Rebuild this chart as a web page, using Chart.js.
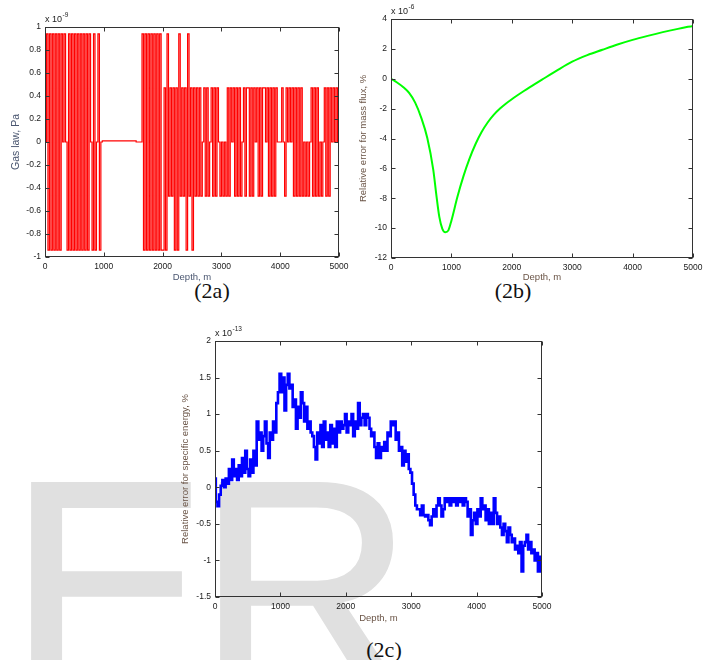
<!DOCTYPE html>
<html>
<head>
<meta charset="utf-8">
<script src="https://cdn.jsdelivr.net/npm/chart.js@4.4.1/dist/chart.umd.min.js"></script>
<style>
  body { margin: 0; background: #fff; width: 715px; height: 660px; overflow: hidden; position: relative; }
  canvas { position: absolute; left: 0; top: 0; }
  .mark { position: absolute; font-family: "Liberation Sans", Arial, sans-serif; font-size: 300px; line-height: 1;
          color: #e0e0e0; -webkit-text-stroke: 3px #e0e0e0; }
  .cap { position: absolute; font-family: "Liberation Serif", serif; font-size: 22px; line-height: 1; color: #111; transform: translateX(-50%); }
</style>
</head>
<body>
<div class="mark" style="left:8px;top:436px">E</div>
<div class="mark" style="left:197px;top:436px">R</div>
<div class="cap" style="left:212px;top:280px">(2a)</div>
<div class="cap" style="left:513px;top:280px">(2b)</div>
<div class="cap" style="left:384px;top:639px">(2c)</div>
<canvas id="chartA" width="715" height="660"></canvas>
<canvas id="chartB" width="715" height="660"></canvas>
<canvas id="chartC" width="715" height="660"></canvas>
<script>
// depth sampling (m) for the two noisy series
var sampleStep = 25;

// (2a) gas law residual, x 1e-9 Pa, one value every 25 m from 0 to 5000 m
var gasLaw = [
  0, 0.94, -0.94, 0.94, -0.94, 0.94, -0.94, 0.94, -0.94, 0.94, -0.94,
  0.94, 0, 0.94, 0,
  -0.94, 0.94, -0.94, 0.94, -0.94, 0.94, -0.94, 0.94, -0.94, 0.94, -0.94, 0.94, -0.94, 0.94, -0.94, 0.94,
  0, -0.94, 0.94, -0.94, 0, 0.94, -0.94, 0,
  0.01, 0.01, 0.01, 0.01, 0.01, 0.01, 0.01, 0.01, 0.01, 0.01, 0.01, 0.01,
  0.01, 0.01, 0.01, 0.01, 0.01, 0.01, 0.01, 0.01, 0.01, 0.01, 0.01,
  0, 0, 0, 0,
  0.94, -0.94, 0.94, -0.94, 0.94, -0.94, 0.94, -0.94, 0.94, -0.94, 0.94, -0.94, 0.94, -0.94,
  -0.94, 0.47, -0.94, 0.94, -0.47, 0.47, -0.47, 0.47, -0.94, 0.47, -0.94,
  0.94, -0.47, 0.47, -0.47, 0.47, -0.94, 0.94, -0.47, 0.47, -0.94,
  0.47, -0.47, 0.47, -0.47,
  0.47, -0.47, 0, 0.47, -0.47, 0.47, -0.47, 0, 0.47, -0.47, 0.47, -0.47, 0.47, 0,
  -0.47, 0, -0.47, 0, -0.47,
  0.47, -0.47, 0.47, 0, 0.47, -0.47, 0.47, -0.47, 0.47, -0.47, 0, 0.47, -0.47, 0.47,
  0.47, -0.47, 0.47, -0.47, 0.47, 0, 0.47, -0.47, 0.47, -0.47, 0.47,
  0.47, 0, 0.47,
  -0.47, 0.47, -0.47, 0.47, -0.47, 0.47,
  0, 0, 0,
  0.47, 0, -0.47, 0.47, 0, 0.47, 0,
  0.47, -0.47, 0.47, -0.47, 0.47, -0.47, 0.47, -0.47,
  0, -0.47, 0, -0.47, 0,
  0.47, -0.47, 0.47, -0.47, 0.47, -0.47,
  0, -0.47, 0,
  0.47, -0.47, 0.47, -0.47, 0.47,
  0, 0.47, 0, 0.47,
  0, 0
];

// (2b) relative error for mass flux, x 1e-6 %
var fluxDepth = [0, 100, 200, 300, 400, 500, 600, 700, 750, 800, 850, 900, 950, 1000,
  1100, 1200, 1300, 1400, 1500, 1600, 1700, 1800, 1900, 2000, 2100, 2200, 2300, 2400, 2500,
  2750, 3000, 3250, 3500, 3750, 4000, 4250, 4500, 4750, 5000];
var fluxError = [0, -0.25, -0.55, -0.95, -1.6, -2.6, -3.95, -6.1, -7.75, -9.25, -10.05, -10.28, -10.15, -9.5,
  -7.9, -6.52, -5.35, -4.37, -3.57, -2.93, -2.42, -2.01, -1.67, -1.37, -1.09, -0.82, -0.56, -0.31, -0.06,
  0.56, 1.14, 1.58, 1.94, 2.29, 2.6, 2.87, 3.12, 3.34, 3.54];

// (2c) relative error for specific energy, x 1e-13 %, every 25 m
var energyError = [
  0.12, -0.2, -0.26, -0.1, 0.02, 0.1, 0.0, 0.12, 0.05, 0.25,
  0.1, 0.38, 0.15, 0.25, 0.1, 0.3, 0.15, 0.4, 0.2, 0.5,
  0.25, 0.15, 0.38, 0.2, 0.5, 0.3, 0.9, 0.65, 0.75, 0.5,
  0.7, 0.9, 0.6, 0.4, 0.75, 0.65, 0.9, 0.75, 1.15, 1.3,
  1.55, 1.3, 1.5, 1.05, 1.4, 1.55, 1.35, 1.4, 1.1, 1.2,
  0.8, 1.1, 0.95, 1.3, 1.15, 0.9, 1.1, 0.8, 0.9, 0.75,
  0.7, 0.55, 0.38, 0.75, 0.6, 0.85, 0.55, 0.9, 0.65, 0.75,
  0.55, 0.85, 0.6, 0.8, 0.55, 0.9, 0.75, 0.9, 0.8, 0.85,
  1.0, 0.75, 0.9, 0.85, 1.0, 0.7, 0.9, 0.8, 1.15, 0.85,
  0.95, 1.0, 0.85, 1.0, 0.95, 0.8, 0.7, 0.75, 0.55, 0.4,
  0.6, 0.4, 0.55, 0.5, 0.62, 0.5, 0.75, 0.7, 0.9, 0.85,
  0.9, 0.65, 0.75, 0.5, 0.55, 0.3, 0.5, 0.35, 0.45, 0.25,
  0.2, 0.05, -0.1, -0.25, -0.3, -0.3, -0.38, -0.25, -0.38, -0.4,
  -0.38, -0.45, -0.52, -0.4, -0.3, -0.4, -0.25, -0.15, -0.25, -0.4,
  -0.3, -0.15, -0.2, -0.15, -0.25, -0.15, -0.2, -0.15, -0.25, -0.15,
  -0.2, -0.15, -0.25, -0.15, -0.2, -0.4, -0.3, -0.65, -0.45, -0.35,
  -0.5, -0.3, -0.4, -0.15, -0.3, -0.25, -0.45, -0.3, -0.5, -0.35,
  -0.5, -0.15, -0.35, -0.5, -0.4, -0.55, -0.65, -0.5, -0.6, -0.75,
  -0.55, -0.65, -0.75, -0.7, -0.85, -0.8, -0.9, -0.75, -1.15, -0.8,
  -0.75, -0.65, -0.85, -0.75, -0.9, -0.85, -1.0, -0.9, -1.15, -0.95,
  -1.15
];

var FONT = '"Liberation Sans", Arial, sans-serif';

function sampled(vals) {
  return vals.map(function(v, i) { return {x: i * sampleStep, y: v}; });
}
function paired(xs, ys) {
  return ys.map(function(v, i) { return {x: xs[i], y: v}; });
}

// MATLAB style frame: full box, inward ticks, exponent note
var boxPlugin = {
  id: 'matlabBox',
  afterDraw: function(chart) {
    var o = chart.options.plugins.matlabBox;
    var ctx = chart.ctx, a = chart.chartArea;
    var sx = chart.scales.x, sy = chart.scales.y;
    var L = Math.round(a.left) + 0.5, R = Math.round(a.right) - 0.5;
    var T = Math.round(a.top) + 0.5, B = Math.round(a.bottom) - 0.5;
    ctx.save();
    ctx.strokeStyle = o.color;
    ctx.lineWidth = 1;
    ctx.strokeRect(L, T, R - L, B - T);
    ctx.beginPath();
    sx.ticks.forEach(function(t) {
      var p = Math.round(sx.getPixelForValue(t.value)) + 0.5;
      ctx.moveTo(p, B); ctx.lineTo(p, B - 4);
      ctx.moveTo(p, T); ctx.lineTo(p, T + 4);
    });
    sy.ticks.forEach(function(t) {
      var p = Math.round(sy.getPixelForValue(t.value)) + 0.5;
      ctx.moveTo(L, p); ctx.lineTo(L + 4, p);
      ctx.moveTo(R, p); ctx.lineTo(R - 4, p);
    });
    ctx.stroke();
    ctx.fillStyle = '#222';
    ctx.textBaseline = 'middle';
    ctx.font = '9px ' + FONT;
    ctx.fillText('x 10', a.left, a.top - 7.5);
    var w = ctx.measureText('x 10').width;
    ctx.font = '6.5px ' + FONT;
    ctx.fillText(o.exp, a.left + w + 0.5, a.top - 11.5);
    ctx.restore();
  }
};

function makeChart(id, cfg) {
  var a = cfg.area;
  var yw = 40;
  var ts = cfg.yTitleSize || 9.5;
  var lh = ts * 1.2;
  new Chart(document.getElementById(id), {
    type: 'scatter',
    data: {
      datasets: [{
        data: cfg.points,
        showLine: true,
        borderColor: cfg.color,
        borderWidth: cfg.width,
        pointRadius: 0,
        fill: false,
        tension: 0,
        stepped: cfg.stepped || false,
        cubicInterpolationMode: cfg.smooth ? 'monotone' : 'default'
      }]
    },
    options: {
      responsive: false,
      animation: false,
      devicePixelRatio: 1,
      layout: {
        padding: {
          left: a.left - yw,
          right: 715 - a.right,
          top: a.top,
          bottom: 660 - a.bottom - cfg.xh
        }
      },
      plugins: {
        legend: {display: false},
        tooltip: {enabled: false},
        matlabBox: {color: '#333', exp: cfg.exp}
      },
      scales: {
        x: {
          type: 'linear',
          min: 0, max: 5000,
          grid: {display: false, drawTicks: false},
          border: {display: false},
          afterFit: function(s) { s.height = cfg.xh; s.paddingLeft = 0; s.paddingRight = 0; },
          ticks: {
            stepSize: 1000, autoSkip: false, maxRotation: 0, padding: 5,
            color: '#1a1a1a', font: {family: FONT, size: 8.5},
            callback: function(v) { return String(v); }
          },
          title: {
            display: true, text: 'Depth, m', color: cfg.titleColor,
            font: {family: FONT, size: 9.5, lineHeight: 1.2},
            padding: {top: 0, bottom: 0}
          }
        },
        y: {
          min: cfg.yMin, max: cfg.yMax,
          grid: {display: false, drawTicks: false},
          border: {display: false},
          afterFit: function(s) { s.width = yw; s.paddingTop = 0; s.paddingBottom = 0; },
          ticks: {
            stepSize: cfg.yStep, autoSkip: false, padding: 4,
            color: '#1a1a1a', font: {family: FONT, size: 8.5},
            callback: function(v) { return String(Math.round(v * 10) / 10); }
          },
          title: {
            display: true, text: cfg.yTitle, color: cfg.titleColor,
            font: {family: FONT, size: ts, lineHeight: 1.2},
            padding: {top: cfg.yTitleX - (a.left - yw) - lh / 2, bottom: 0}
          }
        }
      }
    },
    plugins: [boxPlugin]
  });
}

makeChart('chartA', {
  points: sampled(gasLaw), color: '#ff0000', width: 1.2, stepped: true,
  area: {left: 45, right: 339, top: 27, bottom: 257}, xh: 25.7,
  yMin: -1, yMax: 1, yStep: 0.2, exp: '-9',
  yTitle: 'Gas law, Pa', yTitleX: 16, yTitleSize: 10.5, titleColor: '#4a5670'
});

makeChart('chartB', {
  points: paired(fluxDepth, fluxError), color: '#00ff00', width: 2, smooth: true,
  area: {left: 391, right: 693, top: 19, bottom: 258}, xh: 24.7,
  yMin: -12, yMax: 4, yStep: 2, exp: '-6',
  yTitle: 'Relative error for mass flux, %', yTitleX: 363, titleColor: '#6a5446'
});

makeChart('chartC', {
  points: sampled(energyError), color: '#0000ff', width: 2.6, stepped: 'middle',
  area: {left: 215, right: 542, top: 341, bottom: 597}, xh: 26.7,
  yMin: -1.5, yMax: 2, yStep: 0.5, exp: '-13',
  yTitle: 'Relative error for specific energy, %', yTitleX: 185, titleColor: '#6a5446'
});
</script>
</body>
</html>
